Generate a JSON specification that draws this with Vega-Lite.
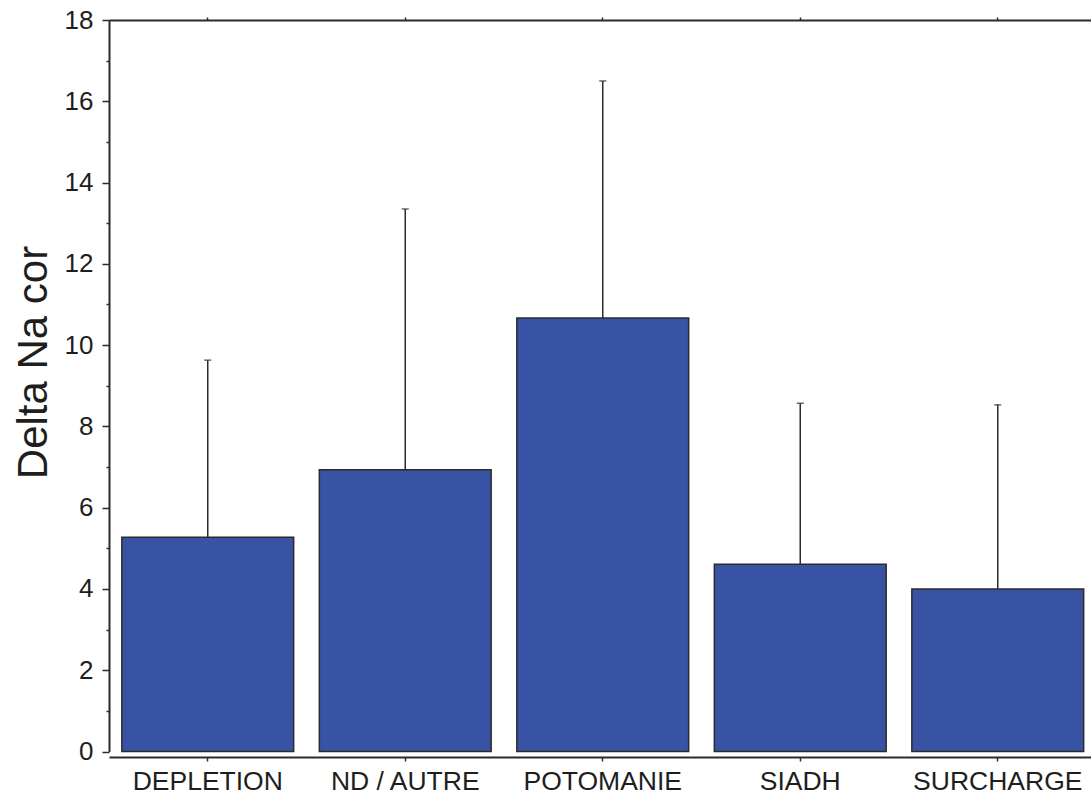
{
  "$schema": "https://vega.github.io/schema/vega-lite/v6.json",
  "autosize": {"type": "none"},
  "width": 982,
  "height": 731.5,
  "padding": {"left": 109, "top": 20, "right": 0, "bottom": 47.5},
  "background": "white",
  "config": {
    "view": {"stroke": null},
    "font": "Liberation Sans",
    "axis": {"grid": false, "domainColor": "#2b2b2b", "tickColor": "#2b2b2b", "labelColor": "#1e1e1e", "titleColor": "#1e1e1e"}
  },
  "data": {
    "values": [
      {"groupe": "DEPLETION", "delta": 5.27, "haut": 9.63},
      {"groupe": "ND / AUTRE", "delta": 6.93, "haut": 13.35},
      {"groupe": "POTOMANIE", "delta": 10.67, "haut": 16.5},
      {"groupe": "SIADH", "delta": 4.61, "haut": 8.57},
      {"groupe": "SURCHARGE", "delta": 4.0, "haut": 8.53}
    ]
  },
  "layer": [
    {
      "mark": {"type": "bar", "fill": "#3953A4", "stroke": "#2b2b2b", "strokeWidth": 1.5},
      "encoding": {
        "x": {
          "field": "groupe",
          "type": "nominal",
          "sort": null,
          "scale": {"range": [0, 987.5], "paddingInner": 0.13, "paddingOuter": 0.065},
          "axis": {
            "orient": "bottom",
            "title": null,
            "labelAngle": 0,
            "labelFontSize": 26.5,
            "labelPadding": 7,
            "tickSize": 4,
            "tickWidth": 1.5,
            "domainWidth": 2,
            "offset": 5.5
          }
        },
        "y": {
          "field": "delta",
          "type": "quantitative",
          "scale": {"domain": [0, 18], "nice": false, "zero": true},
          "axis": {
            "title": "Delta Na cor",
            "titleFontSize": 42,
            "titleFontWeight": "normal",
            "titleAngle": 270,
            "titleAlign": "center",
            "titleBaseline": "middle",
            "titleX": -76,
            "titleY": 342,
            "values": [0, 1, 2, 3, 4, 5, 6, 7, 8, 9, 10, 11, 12, 13, 14, 15, 16, 17, 18],
            "labelExpr": "datum.value % 2 === 0 ? datum.label : ''",
            "labelFontSize": 26,
            "labelPadding": 9,
            "tickSize": {"condition": {"test": "datum.value % 2 === 0", "value": 7}, "value": 3},
            "tickWidth": 1.5,
            "domainWidth": 2
          }
        }
      }
    },
    {
      "mark": {"type": "rule", "color": "#2b2b2b", "strokeWidth": 1.5},
      "encoding": {
        "x": {"field": "groupe", "type": "nominal", "sort": null, "axis": null},
        "y": {"field": "delta", "type": "quantitative"},
        "y2": {"field": "haut"}
      }
    },
    {
      "mark": {"type": "tick", "color": "#2b2b2b", "thickness": 1.5, "size": 7},
      "encoding": {
        "x": {"field": "groupe", "type": "nominal", "sort": null, "axis": null},
        "y": {"field": "haut", "type": "quantitative"}
      }
    },
    {
      "mark": {"type": "rule", "opacity": 0},
      "encoding": {
        "x": {
          "field": "groupe",
          "type": "nominal",
          "sort": null,
          "axis": {
            "orient": "top",
            "title": null,
            "labels": false,
            "tickSize": 3,
            "tickWidth": 1.5,
            "domainWidth": 2
          }
        }
      }
    }
  ],
  "resolve": {"axis": {"x": "independent"}}
}
